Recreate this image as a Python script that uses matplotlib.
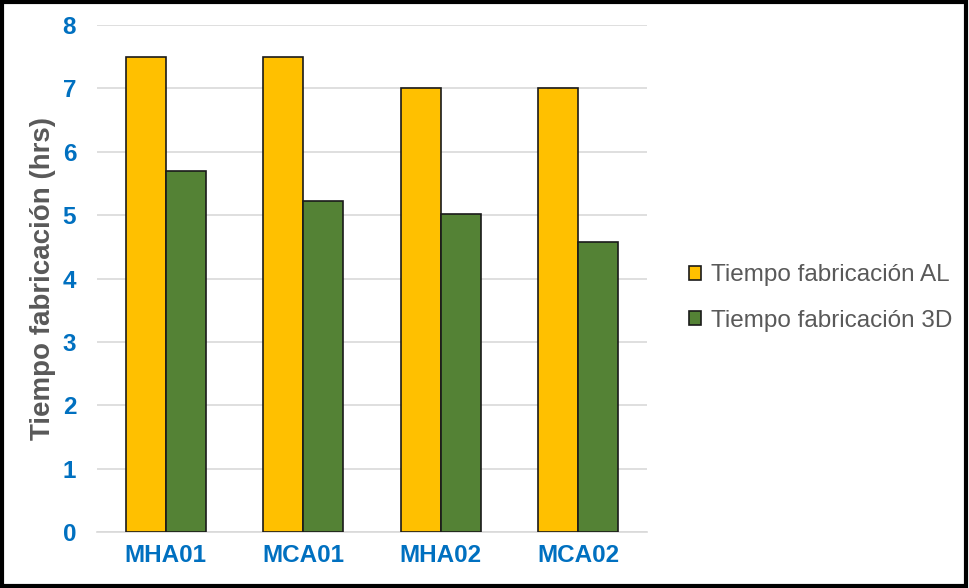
import matplotlib.pyplot as plt
import numpy as np
from matplotlib.patches import Rectangle

categories = ["MHA01", "MCA01", "MHA02", "MCA02"]
tiempo_al = [7.5, 7.5, 7.0, 7.0]
tiempo_3d = [5.69, 5.22, 5.02, 4.57]
series_labels = ["Tiempo fabricación AL", "Tiempo fabricación 3D"]

plt.rcParams["font.family"] = ["Liberation Sans", "DejaVu Sans"]

fig = plt.figure(figsize=(9.69, 5.88), dpi=100)
ax = fig.add_axes([97 / 969, 1 - 532 / 588, 550 / 969, 507 / 588])

x = np.arange(len(categories))
width = 0.29
ax.bar(x - width / 2, tiempo_al, width, color="#FFC000", edgecolor="#1a1a1a",
       linewidth=1.2, label=series_labels[0], zorder=3)
ax.bar(x + width / 2, tiempo_3d, width, color="#548235", edgecolor="#1a1a1a",
       linewidth=1.2, label=series_labels[1], zorder=3)

ax.set_xlim(-0.5, len(categories) - 0.5)
ax.set_ylim(0, 8)
ax.set_yticks(range(0, 9))
ax.set_xticks(x)
ax.set_xticklabels(categories)
ax.grid(axis="y", color="#D9D9D9", linewidth=1.2, zorder=0)
for s in ["top", "right", "left"]:
    ax.spines[s].set_visible(False)
ax.spines["bottom"].set_color("#D9D9D9")
ax.spines["bottom"].set_linewidth(1.2)
ax.tick_params(axis="both", length=0, labelsize=17.5, labelcolor="#0070C0")
ax.tick_params(axis="y", pad=15)
ax.tick_params(axis="x", pad=9)
for lbl in ax.get_xticklabels() + ax.get_yticklabels():
    lbl.set_fontweight("bold")
ax.set_ylabel("Tiempo fabricación (hrs)", fontsize=20, fontweight="bold",
              color="#595959", labelpad=5)

leg = ax.legend(loc="center left", bbox_to_anchor=(677 / 969, 1 - 298 / 588),
                bbox_transform=fig.transFigure, frameon=False, borderpad=0,
                fontsize=17.5, handlelength=0.5, handleheight=0.5,
                handletextpad=0.38, labelspacing=0.97)
for t in leg.get_texts():
    t.set_color("#595959")

fig.patches.append(Rectangle((0.002, 0.003), 0.995, 0.994, transform=fig.transFigure,
                             fill=False, edgecolor="black", linewidth=3))

fig.savefig("out.png", dpi=100)
